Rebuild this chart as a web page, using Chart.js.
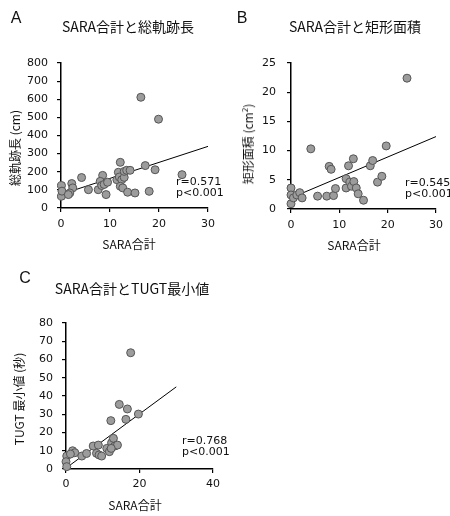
<!DOCTYPE html>
<html>
<head>
<meta charset="utf-8">
<script src="https://cdn.jsdelivr.net/npm/chart.js@4/dist/chart.umd.min.js"></script>
<style>
  html, body { margin: 0; padding: 0; background: #fff; }
  #wrap { position: relative; width: 450px; height: 516px; overflow: hidden; background: #fff; }
  canvas { position: absolute; }
  .t { position: absolute; transform: translate(-50%, -50%); white-space: nowrap; line-height: 1; color: #111;
       font-family: "Noto Sans CJK JP", "Noto Sans", sans-serif; }
  .letter { font-family: "Liberation Sans", Arial, sans-serif; font-size: 16px; }
  .title { font-size: 14px; }
  .ax { font-size: 12px; }
  .rot { transform: translate(-50%, -50%) rotate(-90deg); }
  .stat { position: absolute; font-family: "DejaVu Sans", sans-serif; font-size: 11px; line-height: 11px; color: #111; white-space: nowrap; }
</style>
</head>
<body>
<div id="wrap">
  <canvas id="cA" width="225" height="255" style="left:0;top:0"></canvas>
  <canvas id="cB" width="225" height="255" style="left:225px;top:0"></canvas>
  <canvas id="cC" width="225" height="256" style="left:0;top:260px"></canvas>

  <div class="t letter" style="left:16px;top:17.5px">A</div>
  <div class="t title" style="left:128px;top:26px">SARA合計と総軌跡長</div>
  <div class="t ax" style="left:129px;top:244px">SARA合計</div>
  <div class="t ax rot" style="left:15px;top:148px">総軌跡長 (cm)</div>
  <div class="stat" style="left:176px;top:176px">r=0.571<br>p&lt;0.001</div>

  <div class="t letter" style="left:242px;top:18px">B</div>
  <div class="t title" style="left:355px;top:26px">SARA合計と矩形面積</div>
  <div class="t ax" style="left:354px;top:245px">SARA合計</div>
  <div class="t ax rot" style="left:248px;top:144px">矩形面積 (cm<sup style="font-size:8px;line-height:0">2</sup>)</div>
  <div class="stat" style="left:405px;top:177px">r=0.545<br>p&lt;0.001</div>

  <div class="t letter" style="left:25px;top:278px">C</div>
  <div class="t title" style="left:132px;top:288px">SARA合計とTUGT最小値</div>
  <div class="t ax" style="left:135px;top:505px">SARA合計</div>
  <div class="t ax rot" style="left:19px;top:399px">TUGT 最小値 (秒)</div>
  <div class="stat" style="left:182px;top:435px">r=0.768<br>p&lt;0.001</div>
</div>
<script>
// ---- Data ----
// Panel A: SARA total vs total sway path length (cm)
const saraA = [0.1, 0.1, 0.2, 2.2, 2.4, 1.8, 1.5, 4.2, 5.6, 7.6, 8.5, 8.0, 8.3, 8.8, 9.5, 9.2,
               12.1, 11.7, 11.4, 11.9, 12.4, 12.9, 12.9, 13.4, 14.1, 12.1, 12.6, 13.6, 15.1,
               16.3, 17.2, 18.0, 19.2, 19.9, 24.7];
const pathA = [124, 65, 93, 135, 111, 83, 74, 168, 101, 101, 180, 147, 124, 130, 142, 74,
               252, 197, 156, 171, 156, 169, 202, 208, 208, 120, 111, 87, 83,
               611, 234, 92, 211, 490, 184];
const trendAx = [0, 30];
const trendAy = [75, 340];

// Panel B: SARA total vs rectangular area (cm2)
const saraB = [0.0, 0.0, 0.0, 0.5, 1.2, 1.8, 2.3, 4.1, 5.5, 7.4, 7.9, 8.3, 8.8, 9.2,
               11.4, 11.9, 11.4, 12.2, 12.5, 12.9, 13.0, 13.5, 13.9, 15.0,
               16.4, 16.9, 17.9, 18.8, 19.7, 24.0];
const areaB = [3.6, 2.4, 0.9, 1.9, 2.4, 2.8, 1.9, 10.3, 2.2, 2.2, 7.3, 6.8, 2.3, 3.5,
               5.2, 7.4, 3.6, 4.6, 3.9, 8.6, 4.7, 3.6, 2.6, 1.5,
               7.4, 8.3, 4.6, 5.6, 10.8, 22.4];
const trendBx = [0, 30];
const trendBy = [1.9, 12.4];

// Panel C: SARA total vs minimum TUGT (s)
const saraC = [0.2, 0.0, 0.2, 1.8, 2.4, 1.2, 4.3, 5.6, 7.4, 8.8, 8.3, 9.0, 9.7,
               12.2, 11.1, 11.8, 12.4, 12.9, 13.3, 14.0, 12.3,
               14.5, 16.3, 16.7, 17.6, 19.7];
const tugtC = [7.1, 4.0, 1.3, 10.0, 8.9, 8.2, 7.1, 8.5, 12.6, 13.1, 8.6, 7.7, 7.1,
               26.5, 11.3, 9.5, 14.4, 16.8, 12.6, 13.1, 11.3,
               35.4, 27.2, 32.9, 63.7, 30.1];
const trendCx = [0, 30];
const trendCy = [0.5, 45];

// Axis ticks
const ticksA = { xMax: 30, xStep: 10, yMax: 800, yStep: 100 };
const ticksB = { xMax: 30, xStep: 10, yMax: 25, yStep: 5 };
const ticksC = { xMax: 40, xStep: 20, yMax: 80, yStep: 10 };

function pts(xs, ys) { return xs.map((x, i) => ({ x: x, y: ys[i] })); }

function makeChart(id, xs, ys, tx, ty, tk, layout) {
  const tickFont = { family: '"DejaVu Sans", sans-serif', size: 11 };
  new Chart(document.getElementById(id), {
    type: 'scatter',
    data: {
      datasets: [
        {
          data: pts(xs, ys),
          backgroundColor: '#9c9c9c',
          borderColor: '#555555',
          borderWidth: 1,
          pointRadius: 4,
          pointHoverRadius: 4,
          clip: false
        },
        {
          data: pts(tx, ty),
          showLine: true,
          borderColor: '#000',
          borderWidth: 1,
          pointRadius: 0,
          fill: false,
          clip: false
        }
      ]
    },
    options: {
      responsive: false,
      animation: false,
      devicePixelRatio: 1,
      layout: { padding: { top: layout.top, right: layout.right, left: 0, bottom: 0 } },
      plugins: { legend: { display: false }, tooltip: { enabled: false }, title: { display: false } },
      scales: {
        x: {
          type: 'linear', min: 0, max: tk.xMax,
          ticks: { stepSize: tk.xStep, color: '#111', font: tickFont, padding: layout.xPad, maxRotation: 0 },
          grid: { drawOnChartArea: false, drawTicks: true, tickLength: 4, color: '#000', lineWidth: 1.2 },
          border: { display: true, color: '#000', width: 1.5 },
          afterFit: (s) => { s.height = layout.xH; }
        },
        y: {
          type: 'linear', min: 0, max: tk.yMax,
          ticks: { stepSize: tk.yStep, color: '#111', font: tickFont, padding: layout.yPad },
          grid: { drawOnChartArea: false, drawTicks: true, tickLength: 4, color: '#000', lineWidth: 1.2 },
          border: { display: true, color: '#000', width: 1.5 },
          afterFit: (s) => { s.width = layout.yW; }
        }
      }
    }
  });
}

makeChart('cA', saraA, pathA, trendAx, trendAy, ticksA, { top: 63, right: 17, xH: 47, yW: 61, xPad: 6, yPad: 9 });
makeChart('cB', saraB, areaB, trendBx, trendBy, ticksB, { top: 63, right: 14, xH: 46, yW: 66, xPad: 6, yPad: 11 });
makeChart('cC', saraC, tugtC, trendCx, trendCy, ticksC, { top: 63, right: 12, xH: 47, yW: 66, xPad: 5, yPad: 9 });
</script>
</body>
</html>
